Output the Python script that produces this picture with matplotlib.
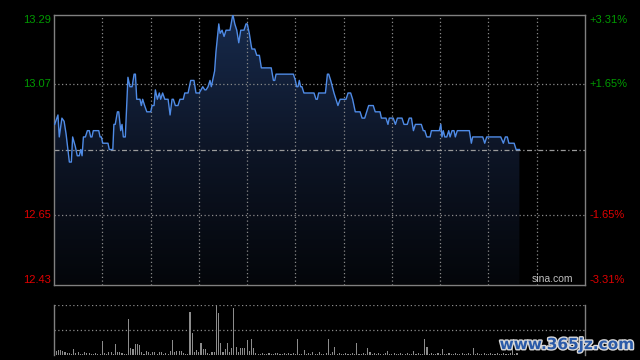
## intraday chart (price + volume)
import numpy as np
import matplotlib
matplotlib.use('Agg')
import matplotlib.pyplot as plt
import matplotlib.patheffects as pe
from matplotlib.colors import LinearSegmentedColormap

## data
prev_close = 12.86
y_ticks = [13.29, 13.07, 12.65, 12.43]
y_labels = ['13.29', '13.07', '12.65', '12.43']
pct_labels = ['+3.31%', '+1.65%', '-1.65%', '-3.31%']
n_minutes = 242

# minute index / price at each turning point of the line
price_t = [0.3, 1.8, 2.4, 3.6, 4.6, 5.5, 6.7, 7.0, 7.9, 8.5,
           9.7, 10.6, 11.5, 12.2, 12.8, 13.4, 14.3, 15.2, 16.1, 16.7,
           17.3, 17.9, 20.4, 21.0, 21.6, 22.2, 24.6, 25.2, 26.8, 27.3,
           27.9, 28.9, 29.5, 30.4, 31.0, 31.6, 32.5, 33.7, 34.6, 35.6,
           36.5, 37.1, 37.7, 39.2, 39.8, 40.4, 41.3, 42.3, 44.1, 44.7,
           45.6, 46.2, 47.1, 48.0, 48.6, 49.5, 50.5, 52.0, 52.9, 53.8,
           54.4, 55.3, 56.5, 57.4, 58.9, 59.6, 61.1, 62.3, 63.8, 64.7,
           66.2, 67.8, 68.7, 69.3, 70.2, 71.1, 71.7, 72.3, 73.2, 73.8,
           75.1, 75.7, 76.6, 77.5, 78.4, 80.2, 81.5, 82.4, 83.3, 84.2,
           85.1, 86.6, 87.5, 88.1, 89.0, 89.9, 90.2, 91.5, 92.4, 93.6,
           94.5, 99.0, 100.0, 100.6, 101.2, 109.1, 110.0, 110.6, 111.2, 111.8,
           112.4, 113.0, 113.9, 118.5, 119.4, 120.0, 120.6, 123.7, 124.6, 125.2,
           126.1, 127.6, 128.5, 129.4, 130.4, 133.1, 134.0, 135.2, 136.1, 137.3,
           139.5, 140.4, 141.6, 143.4, 145.5, 146.4, 148.6, 149.2, 151.3, 152.2,
           152.8, 154.6, 155.6, 156.5, 158.6, 159.5, 161.0, 161.9, 162.9, 163.8,
           164.7, 167.4, 168.3, 169.0, 169.9, 171.4, 172.0, 175.6, 176.3, 176.8,
           177.4, 178.1, 179.0, 179.9, 180.5, 181.4, 182.3, 182.9, 183.8, 189.3,
           190.2, 190.8, 195.4, 196.3, 197.2, 203.6, 204.8, 205.7, 206.6, 207.3,
           209.7, 210.6, 212.1]
price = [12.94, 12.97, 12.90, 12.96, 12.95, 12.91, 12.84, 12.82, 12.82, 12.90,
         12.87, 12.84, 12.84, 12.86, 12.84, 12.90, 12.90, 12.92, 12.92, 12.90,
         12.90, 12.92, 12.92, 12.90, 12.90, 12.88, 12.88, 12.86, 12.86, 12.94,
         12.94, 12.98, 12.98, 12.92, 12.94, 12.90, 12.90, 13.09, 13.06, 13.06,
         13.10, 13.10, 13.02, 13.02, 13.00, 13.02, 13.00, 12.98, 12.98, 13.00,
         13.00, 13.05, 13.02, 13.04, 13.02, 13.04, 13.02, 13.02, 12.97, 13.02,
         13.02, 13.00, 13.00, 13.02, 13.02, 13.04, 13.04, 13.08, 13.08, 13.04,
         13.04, 13.06, 13.05, 13.05, 13.06, 13.08, 13.06, 13.08, 13.11, 13.17,
         13.26, 13.23, 13.24, 13.22, 13.24, 13.24, 13.29, 13.26, 13.24, 13.20,
         13.24, 13.24, 13.26, 13.26, 13.23, 13.19, 13.18, 13.18, 13.16, 13.16,
         13.12, 13.12, 13.08, 13.08, 13.10, 13.10, 13.08, 13.06, 13.06, 13.08,
         13.06, 13.06, 13.04, 13.04, 13.02, 13.02, 13.04, 13.04, 13.10, 13.10,
         13.08, 13.04, 13.02, 13.00, 13.02, 13.02, 13.04, 13.04, 13.02, 12.98,
         12.98, 12.96, 12.96, 13.00, 13.00, 12.98, 12.98, 12.96, 12.96, 12.94,
         12.96, 12.96, 12.94, 12.96, 12.96, 12.94, 12.94, 12.96, 12.96, 12.92,
         12.94, 12.94, 12.92, 12.92, 12.90, 12.90, 12.92, 12.92, 12.94, 12.90,
         12.92, 12.90, 12.90, 12.92, 12.90, 12.92, 12.92, 12.90, 12.92, 12.92,
         12.88, 12.90, 12.90, 12.88, 12.90, 12.90, 12.88, 12.90, 12.90, 12.88,
         12.88, 12.86, 12.86]

# volume per minute (relative units)
volume = [32, 12, 14, 15, 13, 10, 7, 5, 4, 17,
          5, 10, 4, 4, 10, 5, 5, 4, 4, 7,
          4, 4, 42, 7, 4, 8, 10, 4, 32, 10,
          10, 5, 4, 4, 107, 20, 18, 32, 32, 30,
          8, 4, 13, 10, 4, 8, 8, 4, 10, 8,
          4, 7, 4, 13, 44, 10, 13, 13, 12, 7,
          4, 4, 128, 65, 10, 14, 10, 35, 17, 17,
          7, 4, 8, 10, 148, 125, 35, 10, 18, 35,
          10, 20, 140, 25, 10, 20, 20, 20, 44, 12,
          47, 22, 5, 4, 4, 5, 4, 4, 5, 4,
          4, 5, 7, 4, 4, 5, 4, 7, 4, 5,
          4, 48, 4, 4, 14, 4, 7, 4, 8, 4,
          4, 8, 4, 4, 5, 48, 4, 8, 25, 4,
          5, 4, 4, 5, 4, 4, 5, 4, 35, 4,
          4, 5, 4, 20, 10, 4, 7, 4, 5, 4,
          4, 5, 13, 4, 4, 5, 4, 4, 5, 4,
          4, 5, 4, 4, 13, 4, 5, 4, 4, 47,
          23, 4, 5, 4, 4, 5, 4, 17, 4, 4,
          5, 4, 4, 5, 4, 4, 5, 4, 4, 5,
          4, 20, 4, 5, 4, 4, 5, 4, 4, 5,
          4, 4, 5, 4, 4, 5, 4, 4, 5, 35,
          4, 5]

## style
bg = 'black'
frame_c = '#808080'
grid_c = '#8a8a8a'
line_c = '#4f8be6'
green = '#009a00'
red = '#e00000'
plt.rcParams['font.family'] = ['Liberation Sans', 'DejaVu Sans']

fig = plt.figure(figsize=(6.4, 3.6), dpi=100, facecolor=bg)
ax = fig.add_axes([54/640, 1-284.5/360, 531/640, 270/360], facecolor=bg)
axv = fig.add_axes([54/640, 1-355/360, 531/640, 50/360], facecolor=bg)

## price panel
ymin, ymax = y_ticks[-1], y_ticks[0]
ax.set_xlim(0, n_minutes)
ax.set_ylim(ymin, ymax)

fill = ax.fill_between(price_t, price, ymin, facecolor='none', edgecolor='none')
cmap = LinearSegmentedColormap.from_list('f', ['#04060a', '#0d1526', '#172a4c'])
grad = np.linspace(0, 1, 256).reshape(-1, 1)
im = ax.imshow(grad, cmap=cmap, origin='lower', aspect='auto',
               extent=[0, price_t[-1], ymin, ymax], zorder=1)
im.set_clip_path(fill.get_paths()[0], transform=ax.transData)
ax.set_xlim(0, n_minutes)
ax.set_ylim(ymin, ymax)

for gx in range(22, n_minutes, 22):
    ax.axvline(gx, color=grid_c, lw=0.9, ls=(0, (1, 2)), zorder=2)
for gy in [y_ticks[1], y_ticks[2]]:
    ax.axhline(gy, color=grid_c, lw=0.9, ls=(0, (1, 2)), zorder=2)
ax.axhline(prev_close, color='#9a9a9a', lw=0.9, ls=(0, (4, 2, 1, 2)), zorder=2)

ax.plot(price_t, price, color=line_c, lw=1.0, zorder=3)

for s in ax.spines.values():
    s.set_color(frame_c)
    s.set_linewidth(1.0)
ax.set_xticks([])
ax.set_yticks([])

## axis labels
vas = ['top', 'center', 'center', 'bottom']
cols = [green, green, red, red]
for v, lab, pl, va, c in zip(y_ticks, y_labels, pct_labels, vas, cols):
    ax.annotate(lab, (0, v), xycoords=('axes fraction', 'data'), xytext=(-3, 0),
                textcoords='offset pixels', ha='right', va=va, color=c, fontsize=8)
    ax.annotate(pl, (1, v), xycoords=('axes fraction', 'data'), xytext=(4, 0),
                textcoords='offset pixels', ha='left', va=va, color=c, fontsize=8)

ax.text(0.977, 0.0, 'sina.com', transform=ax.transAxes, ha='right', va='bottom',
        color='#c0c0c0', fontsize=7.5, zorder=4)

## volume panel
axv.set_xlim(0, n_minutes)
axv.set_ylim(0, 150)
axv.bar(np.arange(len(volume)), volume, width=0.5, color='#8c8c8c', align='center')
axv.axhline(150, color=grid_c, lw=0.9, ls=(0, (1, 2)))
axv.axhline(75, color=grid_c, lw=0.9, ls=(0, (1, 2)))
for k in ['top', 'bottom']:
    axv.spines[k].set_visible(False)
for k in ['left', 'right']:
    axv.spines[k].set_color(frame_c)
    axv.spines[k].set_linewidth(1.0)
axv.set_xticks([])
axv.set_yticks([])

## watermark
fig.text(0.990, 0.022, 'www.365jz.com', ha='right', va='bottom', color='#2a5aa8',
         fontsize=11, fontweight='bold', family='DejaVu Sans',
         path_effects=[pe.withStroke(linewidth=2, foreground='#d8d8d8')])

fig.savefig('out.png', dpi=100, facecolor=bg)
